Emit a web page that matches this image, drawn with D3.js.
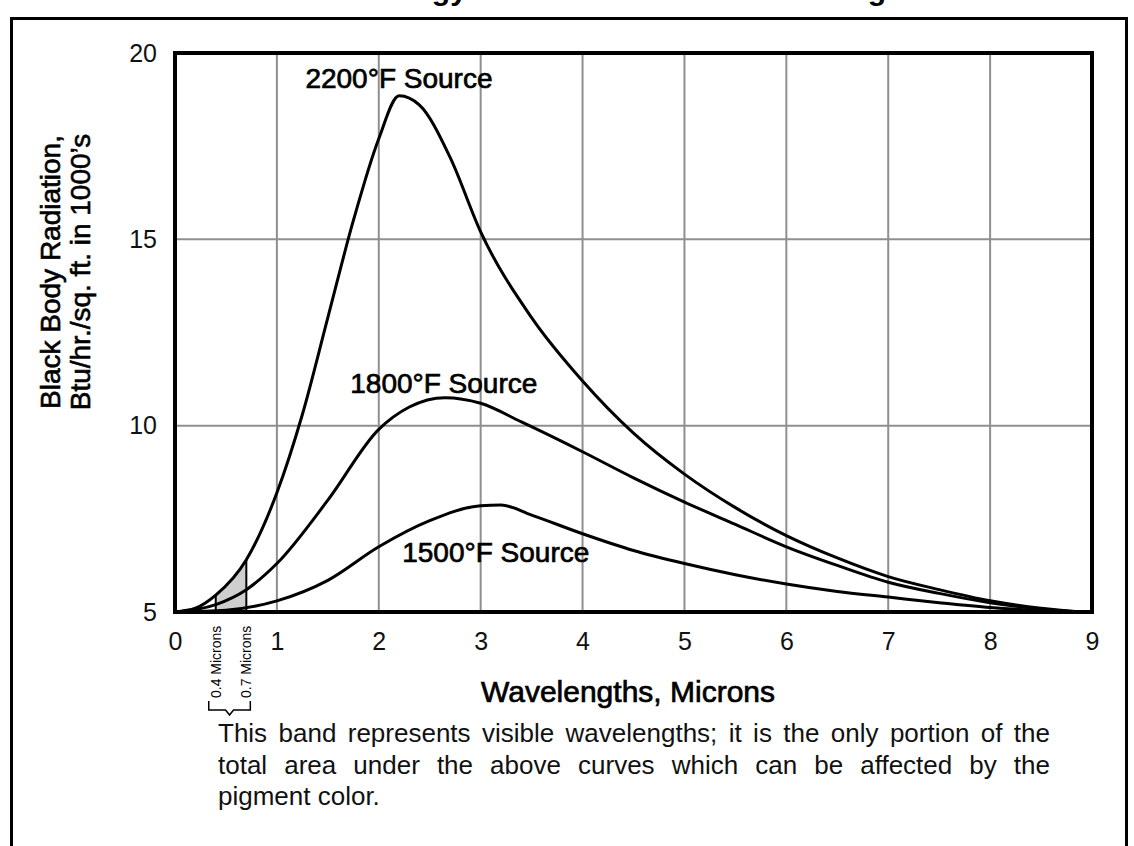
<!DOCTYPE html>
<html>
<head>
<meta charset="utf-8">
<script src="https://cdn.jsdelivr.net/npm/d3@7"></script>
<style>
  body { margin: 0; background: #fff; }
  svg { display: block; font-family: "Liberation Sans", Arial, sans-serif; }
</style>
</head>
<body>
<div class="radiation-plot"></div>
<script>
// ticks
const xTicks = [0, 1, 2, 3, 4, 5, 6, 7, 8, 9];
const yTicks = [5, 10, 15, 20];

// visible band (microns)
const band = [0.4, 0.7];
const bandLabels = ["0.4 Microns", "0.7 Microns"];

// curves (x = microns, y = Btu/hr/sq ft in 1000's)
const wave2200 = [0, 0.2, 0.4, 0.7, 1.0, 1.25, 1.5, 1.75, 2.0, 2.2, 2.4, 2.7, 3.0, 3.5, 4.0, 4.5, 5.0, 5.5, 6.0, 6.5, 7.0, 7.5, 8.0, 8.5, 8.9];
const rad2200  = [5, 5.1, 5.45, 6.4, 8.2, 10.3, 12.9, 15.5, 17.7, 18.85, 18.6, 17.2, 15.2, 12.9, 11.2, 9.8, 8.7, 7.8, 7.05, 6.45, 5.95, 5.6, 5.3, 5.1, 5.0];

const wave1800 = [0, 0.4, 0.7, 1.0, 1.5, 2.0, 2.3, 2.65, 3.0, 3.4, 4.0, 4.5, 5.0, 5.5, 6.0, 6.5, 7.0, 7.5, 8.0, 8.5, 8.9];
const rad1800  = [5, 5.2, 5.6, 6.3, 8.0, 9.9, 10.5, 10.75, 10.6, 10.1, 9.3, 8.6, 7.95, 7.35, 6.75, 6.25, 5.8, 5.5, 5.25, 5.08, 5.0];

const wave1500 = [0, 0.5, 1.0, 1.5, 2.0, 2.5, 3.0, 3.2, 3.5, 4.0, 4.5, 5.0, 5.5, 6.0, 6.5, 7.0, 7.5, 8.0, 8.5, 8.9];
const rad1500  = [5, 5.05, 5.3, 5.85, 6.75, 7.45, 7.85, 7.87, 7.6, 7.1, 6.65, 6.3, 6.0, 5.75, 5.55, 5.4, 5.25, 5.12, 5.04, 5.0];

const sourceNames = ["2200°F Source", "1800°F Source", "1500°F Source"];

const titleText = "Distribution of Energy Emitted at Various Wavelengths";
const yLabelLines = ["Black Body Radiation,", "Btu/hr./sq. ft. in 1000’s"];
const xLabelText = "Wavelengths, Microns";
const noteLines = [
    "This band represents visible wavelengths; it is the only portion of the",
    "total area under the above curves which can be affected by the",
    "pigment color."
];

makeChart();

function makeChart() {
    const outerWidth = 1134;
    const outerHeight = 846;
    const plot = {left: 175, right: 1092, top: 53, bottom: 612};

    const svg = d3.select('.radiation-plot')
                .append('svg')
                .attr('width', outerWidth)
                .attr('height', outerHeight);

    // outer frame (bottom edge runs off the page)
    svg.append('rect')
        .attr('x', 11.5).attr('y', 18.5)
        .attr('width', 1115).attr('height', 900)
        .attr('fill', 'none')
        .attr('stroke', 'black')
        .attr('stroke-width', 3);

    // title, cut off above the page: only descenders show
    const title = svg.append('text')
        .attr('y', 0)
        .attr('font-size', 26)
        .attr('font-weight', 'bold')
        .text(titleText);
    fitTitle(title, 432, 868);

    const xScale = d3.scaleLinear().domain([0, 9]).range([plot.left, plot.right]);
    const yScale = d3.scaleLinear().domain([5, 20]).range([plot.bottom, plot.top]);

    // grid
    svg.append('g')
        .selectAll('line')
        .data(xTicks.slice(1, -1))
        .join('line')
        .attr('x1', d => xScale(d)).attr('x2', d => xScale(d))
        .attr('y1', plot.top).attr('y2', plot.bottom)
        .attr('stroke', '#8f8f8f')
        .attr('stroke-width', 2);
    svg.append('g')
        .selectAll('line')
        .data(yTicks.slice(1, -1))
        .join('line')
        .attr('y1', d => yScale(d)).attr('y2', d => yScale(d))
        .attr('x1', plot.left).attr('x2', plot.right)
        .attr('stroke', '#8f8f8f')
        .attr('stroke-width', 2);

    const pts2200 = wave2200.map((w, i) => [w, rad2200[i]]);
    const pts1800 = wave1800.map((w, i) => [w, rad1800[i]]);
    const pts1500 = wave1500.map((w, i) => [w, rad1500[i]]);

    // shaded visible band under the 2200 curve
    svg.append('clipPath')
        .attr('id', 'band-clip')
        .append('rect')
        .attr('x', xScale(band[0])).attr('width', xScale(band[1]) - xScale(band[0]))
        .attr('y', plot.top).attr('height', plot.bottom - plot.top);

    const area = d3.area()
        .x(d => xScale(d[0]))
        .y0(yScale(5))
        .y1(d => yScale(d[1]))
        .curve(d3.curveMonotoneX);

    svg.append('path')
        .datum(pts2200)
        .attr('clip-path', 'url(#band-clip)')
        .attr('fill', '#cfcfcf')
        .attr('d', area);

    svg.append('g')
        .selectAll('line')
        .data(band)
        .join('line')
        .attr('x1', d => xScale(d)).attr('x2', d => xScale(d))
        .attr('y1', yScale(5))
        .attr('y2', d => yScale(rad2200[wave2200.indexOf(d)]))
        .attr('stroke', 'black')
        .attr('stroke-width', 2);

    // curves
    const line = d3.line()
        .x(d => xScale(d[0]))
        .y(d => yScale(d[1]))
        .curve(d3.curveMonotoneX);

    svg.append('g')
        .selectAll('path')
        .data([pts2200, pts1800, pts1500])
        .join('path')
        .attr('fill', 'none')
        .attr('stroke', 'black')
        .attr('stroke-width', 3)
        .attr('stroke-linejoin', 'round')
        .attr('d', line);

    // plot frame
    svg.append('rect')
        .attr('x', plot.left).attr('y', plot.top)
        .attr('width', plot.right - plot.left).attr('height', plot.bottom - plot.top)
        .attr('fill', 'none')
        .attr('stroke', 'black')
        .attr('stroke-width', 4);

    // axes (labels only, frame drawn above)
    const xAxis = d3.axisBottom(xScale).tickValues(xTicks).tickSize(0).tickPadding(20);
    const yAxis = d3.axisLeft(yScale).tickValues(yTicks).tickSize(0).tickPadding(18);

    svg.append('g')
        .attr('transform', `translate(0, ${plot.bottom})`)
        .call(xAxis)
        .call(g => g.select('.domain').remove())
        .call(g => g.selectAll('text')
                    .attr('font-family', '"Liberation Sans", Arial, sans-serif')
                    .attr('font-size', 25)
                    .attr('fill', '#111'));

    svg.append('g')
        .attr('transform', `translate(${plot.left}, 0)`)
        .call(yAxis)
        .call(g => g.select('.domain').remove())
        .call(g => g.selectAll('text')
                    .attr('font-family', '"Liberation Sans", Arial, sans-serif')
                    .attr('font-size', 25)
                    .attr('fill', '#111'));

    // source labels
    const labelPos = [[1.28, 19.05], [1.72, 10.88], [2.23, 6.34]];
    svg.append('g')
        .selectAll('text')
        .data(sourceNames)
        .join('text')
        .attr('x', (d, i) => xScale(labelPos[i][0]))
        .attr('y', (d, i) => yScale(labelPos[i][1]))
        .attr('font-size', 28)
        .attr('stroke', 'black')
        .attr('stroke-width', 0.7)
        .text(d => d);

    // band labels, rotated
    svg.append('g')
        .selectAll('text')
        .data(band)
        .join('text')
        .attr('transform', d => `translate(${xScale(d) + 5}, 698) rotate(-90)`)
        .attr('font-size', 14)
        .text((d, i) => bandLabels[i]);

    // bracket under the band labels
    const bx0 = xScale(band[0]) - 7, bx1 = xScale(band[1]) + 4;
    const bm = (bx0 + bx1) / 2;
    svg.append('path')
        .attr('d', `M${bx0},701 V710 H${bm - 4} L${bm},715 L${bm + 4},710 H${bx1} V701`)
        .attr('fill', 'none')
        .attr('stroke', 'black')
        .attr('stroke-width', 1.5);

    // axis titles
    svg.append('text')
        .attr('x', 628)
        .attr('y', 702)
        .attr('text-anchor', 'middle')
        .attr('font-size', 30)
        .attr('stroke', 'black')
        .attr('stroke-width', 0.7)
        .text(xLabelText);

    svg.append('g')
        .attr('transform', 'translate(0, 272) rotate(-90)')
        .selectAll('text')
        .data(yLabelLines)
        .join('text')
        .attr('x', 0)
        .attr('y', (d, i) => 60 + i * 30)
        .attr('text-anchor', 'middle')
        .attr('font-size', 28)
        .attr('stroke', 'black')
        .attr('stroke-width', 0.6)
        .text(d => d);

    // footnote, justified
    noteLines.forEach((t, i) => {
        justifyLine(svg, t, 218, 1050, 742 + i * 31.5, i < noteLines.length - 1);
    });
}

function fitTitle(text, gyX, gX) {
    const s = text.text();
    const node = text.node();
    const a = node.getSubStringLength(0, s.indexOf('Energy') + 4);
    const b = node.getSubStringLength(0, s.lastIndexOf('g'));
    const k = (gX - gyX) / (b - a);
    text.attr('font-size', 26 * k).attr('x', gyX - a * k);
}

function justifyLine(svg, str, x0, x1, y, justify) {
    const words = str.split(' ');
    const text = svg.append('text')
        .attr('y', y)
        .attr('font-size', 26)
        .attr('fill', '#111');
    const spans = words.map(w => text.append('tspan').attr('x', x0).text(w));
    const widths = spans.map(s => s.node().getComputedTextLength());
    const total = d3.sum(widths);
    const gap = justify ? (x1 - x0 - total) / (words.length - 1) : 7.2;
    let x = x0;
    spans.forEach((s, i) => {
        s.attr('x', x);
        x += widths[i] + gap;
    });
}
</script>
</body>
</html>
